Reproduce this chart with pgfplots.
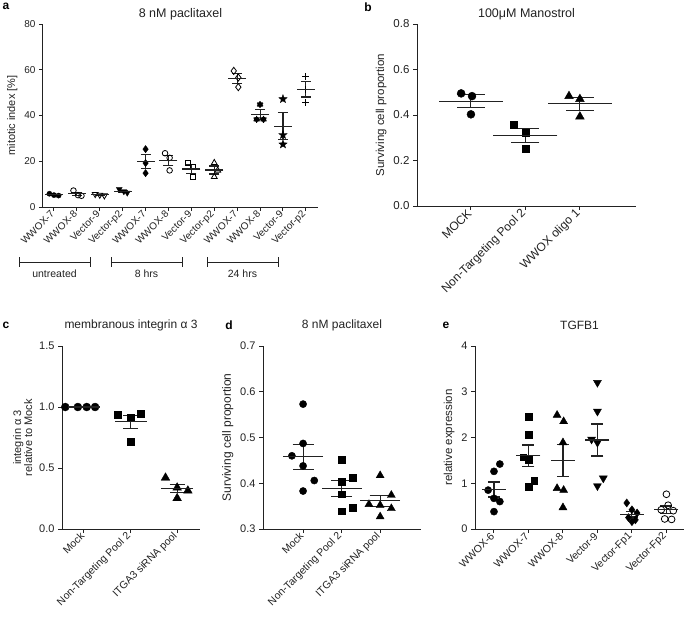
\documentclass[border=0pt]{standalone}
\usepackage{fontspec}
\setmainfont{Liberation Sans}
\usepackage{pgfplots}
\pgfplotsset{compat=1.18}
\usetikzlibrary{plotmarks}

\definecolor{ink}{HTML}{222222}

% filled five-pointed star
\pgfdeclareplotmark{fstar}{%
  \pgfpathmoveto{\pgfpointpolar{90}{1.2\pgfplotmarksize}}%
  \pgfpathlineto{\pgfpointpolar{126}{0.5\pgfplotmarksize}}%
  \pgfpathlineto{\pgfpointpolar{162}{1.2\pgfplotmarksize}}%
  \pgfpathlineto{\pgfpointpolar{198}{0.5\pgfplotmarksize}}%
  \pgfpathlineto{\pgfpointpolar{234}{1.2\pgfplotmarksize}}%
  \pgfpathlineto{\pgfpointpolar{270}{0.5\pgfplotmarksize}}%
  \pgfpathlineto{\pgfpointpolar{306}{1.2\pgfplotmarksize}}%
  \pgfpathlineto{\pgfpointpolar{342}{0.5\pgfplotmarksize}}%
  \pgfpathlineto{\pgfpointpolar{18}{1.2\pgfplotmarksize}}%
  \pgfpathlineto{\pgfpointpolar{54}{0.5\pgfplotmarksize}}%
  \pgfpathclose\pgfusepathqfillstroke}
% filled dot with spikes
\pgfdeclareplotmark{blob}{%
  \pgfpathcircle{\pgfpointorigin}{0.6\pgfplotmarksize}\pgfusepathqfillstroke
  \pgfpathmoveto{\pgfpointpolar{90}{\pgfplotmarksize}}\pgfpathlineto{\pgfpointpolar{270}{\pgfplotmarksize}}%
  \pgfpathmoveto{\pgfpointpolar{30}{\pgfplotmarksize}}\pgfpathlineto{\pgfpointpolar{210}{\pgfplotmarksize}}%
  \pgfpathmoveto{\pgfpointpolar{150}{\pgfplotmarksize}}\pgfpathlineto{\pgfpointpolar{330}{\pgfplotmarksize}}%
  \pgfusepathqstroke}

\pgfplotsset{
  gp/.style={
    scale only axis, anchor=south west, clip=false,
    axis x line*=bottom, axis y line*=left,
    axis line style={line width=1pt, -, ink},
    tick align=outside, major tick length=4pt,
    tick style={line width=1pt, ink},
    /pgf/number format/assume math mode=true,
    x tick label style={rotate=45, anchor=east, inner sep=2pt},
    every tick label/.append style={text=ink},
    label style={text=ink},
    title style={text=ink, anchor=center, yshift=1pt},
  },
  gp/.default={},
  means/.style 2 args={only marks, ink, mark=-, mark size=#1,
    mark options={line width=1.1pt},
    error bars/.cd, y dir=both, y explicit,
    error mark options={rotate=90, mark size=#2, line width=1.1pt},
    error bar style={line width=1.1pt}},
  pts/.style={only marks, black, mark size=#1},
}
\newcommand\fs[1]{\fontsize{#1}{#1}\selectfont}

\begin{document}
\begin{tikzpicture}
\useasboundingbox (0,0) rectangle (685pt,-624pt);

% panel letters
\node[anchor=center, font=\fs{12}\bfseries] at (6pt,-6pt) {a};
\node[anchor=center, font=\fs{12}\bfseries] at (368pt,-7pt) {b};
\node[anchor=center, font=\fs{12}\bfseries] at (6pt,-325pt) {c};
\node[anchor=center, font=\fs{12}\bfseries] at (229pt,-325pt) {d};
\node[anchor=center, font=\fs{12}\bfseries] at (446pt,-325pt) {e};

% ---------- a ----------
\begin{axis}[gp, at={(43pt,-207pt)}, width=275pt, height=183pt,
  xmin=-0.48, xmax=11.53, ymin=0, ymax=80,
  ytick={0,20,40,60,80}, xtick={0,...,11},
  xticklabels={WWOX-7,WWOX-8,Vector-9,Vector-p2,WWOX-7,WWOX-8,Vector-9,Vector-p2,WWOX-7,WWOX-8,Vector-9,Vector-p2},
  ticklabel style={font=\fs{10}},
  ylabel={mitotic index [\%]}, ylabel style={font=\fs{11}},
  title={8 nM paclitaxel}, title style={font=\fs{12.5}, at={(0.5,1)}, yshift=3pt}]
\addplot[pts=2.6, mark=*] coordinates {(-0.2,5.8) (0,5.2) (0.2,5.0)};
\addplot[pts=2.8, mark=o, thick] coordinates {(0.85,7.2) (1.05,5.2) (1.2,4.9)};
\addplot[pts=3.4, mark=triangle, thick, mark options={rotate=180}] coordinates {(1.8,5.6) (2,5.3) (2.2,5.0)};
\addplot[pts=3.4, mark=triangle*, mark options={rotate=180}] coordinates {(2.85,7.8) (3.05,6.8) (3.2,6.2)};
\addplot[pts=3.6, mark=diamond*] coordinates {(4,25.3) (4,19.2) (4,14.8)};
\addplot[pts=2.8, mark=o, thick] coordinates {(4.85,23.5) (5.05,21.5) (5.05,16.0)};
\addplot[pts=2.6, mark=square, thick] coordinates {(5.85,19.3) (6.05,17.6) (6.05,13.0)};
\addplot[pts=3.4, mark=triangle, thick] coordinates {(7,19.3) (7.15,16.0) (7,13.2)};
\addplot[pts=3.6, mark=diamond, thick] coordinates {(7.85,59.5) (8.05,56.6) (8.05,52.4)};
\addplot[pts=3.4, mark=blob, fill=black, mark options={line width=1.2pt}] coordinates {(9,44.8) (8.85,38.3) (9.15,38.3)};
\addplot[pts=3.6, mark=fstar, fill=black, mark options={fill=black}] coordinates {(10,47.2) (10,31.5) (10,27.4)};
\addplot[pts=3.4, mark=+, mark options={line width=1.1pt}] coordinates {(11,57.2) (11,51.4) (11,45.7)};
\addplot[means={9pt}{5pt}] coordinates {
  (0,5.33) +- (0,0.24)  (1,5.77) +- (0,0.72)  (2,5.3) +- (0,0.17)  (3,6.93) +- (0,0.47)
  (4,19.77) +- (0,3.04) (5,20.33) +- (0,2.24) (6,16.63) +- (0,1.88) (7,16.17) +- (0,1.76)
  (8,56.17) +- (0,2.06) (9,40.47) +- (0,2.17) (10,35.37) +- (0,6.03) (11,51.43) +- (0,3.32)};
\end{axis}

% group brackets under panel a
\begin{scope}[line width=1pt, ink]
  \foreach \l/\r/\t in {19/90/untreated, 111/182/8 hrs, 207/278/24 hrs} {
    \draw (\l pt,-262pt) -- (\r pt,-262pt);
    \draw (\l pt,-257pt) -- (\l pt,-267pt);
    \draw (\r pt,-257pt) -- (\r pt,-267pt);
    \node[font=\fs{10.5}, text=ink] at ({(\l+\r)/2*1pt},-274pt) {\t};
  }
\end{scope}

% ---------- b ----------
\begin{axis}[gp, at={(417pt,-206pt)}, width=219pt, height=182pt,
  xmin=-0.99, xmax=3.03, ymin=0, ymax=0.8,
  ytick={0,0.2,...,0.8}, xtick={0,1,2},
  xticklabels={MOCK,Non-Targeting Pool 2,WWOX oligo 1},
  yticklabel style={font=\fs{11.5}, /pgf/number format/.cd, fixed, fixed zerofill, precision=1},
  xticklabel style={font=\fs{12}},
  ylabel={Surviving cell proportion}, ylabel style={font=\fs{11.5}},
  title={100μM Manostrol}, title style={font=\fs{12.5}, at={(0.5,1)}, yshift=3pt}]
\addplot[pts=4, mark=*] coordinates {(-0.18,0.495) (0.02,0.483) (0,0.403)};
\addplot[pts=3.6, mark=square*] coordinates {(0.79,0.359) (1,0.322) (1,0.251)};
\addplot[pts=5, mark=triangle*] coordinates {(1.8,0.483) (2,0.470) (2,0.393)};
\addplot[means={32pt}{14pt}] coordinates {
  (0,0.4603) +- (0,0.029) (1,0.3107) +- (0,0.0317) (2,0.4487) +- (0,0.0281)};
\end{axis}

% ---------- c ----------
\begin{axis}[gp, at={(62pt,-529pt)}, width=138pt, height=183pt,
  xmin=-0.47, xmax=2.49, ymin=0, ymax=1.5,
  ytick={0,0.5,1,1.5}, xtick={0,1,2},
  xticklabels={Mock,Non-Targeting Pool 2,ITGA3 siRNA pool},
  yticklabel style={font=\fs{11}, /pgf/number format/.cd, fixed, fixed zerofill, precision=1},
  xticklabel style={font=\fs{10.5}},
  ylabel={integrin α 3\\relative to Mock}, ylabel style={font=\fs{11}, align=center},
  title={membranous integrin α 3}, title style={font=\fs{12}, at={(0.5,1)}, yshift=14pt}]
\addplot[pts=4, mark=*] coordinates {(-0.4,1) (-0.13,1) (0.06,1) (0.24,1)};
\addplot[pts=3.6, mark=square*] coordinates {(0.73,0.934) (1,0.915) (1.22,0.948) (1,0.716)};
\addplot[pts=5, mark=triangle*] coordinates {(1.75,0.42) (2,0.339) (2.23,0.314) (2,0.252)};
\addplot[means={16pt}{7.5pt}] coordinates {
  (0,1.0) +- (0,0.0) (1,0.878) +- (0,0.0545) (2,0.331) +- (0,0.0348)};
\end{axis}

% ---------- d ----------
\begin{axis}[gp, at={(263pt,-529pt)}, width=158pt, height=183pt,
  xmin=-1.04, xmax=3.06, ymin=0.3, ymax=0.7,
  ytick={0.3,0.4,...,0.7}, xtick={0,1,2},
  xticklabels={Mock,Non-Targeting Pool 2,ITGA3 siRNA pool},
  yticklabel style={font=\fs{11}, /pgf/number format/.cd, fixed, fixed zerofill, precision=1},
  xticklabel style={font=\fs{10.5}},
  ylabel={Surviving cell proportion}, ylabel style={font=\fs{12}},
  title={8 nM paclitaxel}, title style={font=\fs{12}, at={(0.5,1)}, yshift=14pt}]
\addplot[pts=3.6, mark=*] coordinates {(0,0.573) (0,0.487) (-0.29,0.460) (0,0.438) (0.29,0.406) (0,0.383)};
\addplot[pts=3.3, mark=square*] coordinates {(1,0.452) (1,0.403) (1.29,0.412) (1,0.376) (1.29,0.347) (1,0.339)};
\addplot[pts=4.6, mark=triangle*] coordinates {(2,0.417) (2.29,0.374) (1.71,0.354) (2,0.352) (2.29,0.345) (2,0.327)};
\addplot[means={20pt}{10.5pt}] coordinates {
  (0,0.458) +- (0,0.0276) (1,0.388) +- (0,0.0174) (2,0.3615) +- (0,0.0127)};
\end{axis}

% ---------- e ----------
\begin{axis}[gp, at={(475pt,-529pt)}, width=209pt, height=183pt,
  xmin=-0.55, xmax=5.51, ymin=0, ymax=4,
  ytick={0,1,2,3,4}, xtick={0,...,5},
  xticklabels={WWOX-6,WWOX-7,WWOX-8,Vector-9,Vector-Fp1,Vector-Fp2},
  yticklabel style={font=\fs{11}},
  xticklabel style={font=\fs{10.5}},
  ylabel={relative expression}, ylabel style={font=\fs{11.5}},
  title={TGFB1}, title style={font=\fs{12}, at={(0.5,1)}, yshift=14pt}]
\addplot[pts=3.6, mark=*] coordinates {(0.17,1.42) (0,1.26) (-0.17,0.85) (0,0.67) (0.17,0.60) (0,0.38)};
\addplot[pts=3.3, mark=square*] coordinates {(1,2.46) (1,2.06) (0.85,1.57) (1,1.51) (1.17,1.05) (1,0.93)};
\addplot[pts=4.6, mark=triangle*] coordinates {(1.83,2.49) (2.02,2.35) (2,1.89) (1.83,0.89) (2.02,0.85) (2,0.47)};
\addplot[pts=4.6, mark=triangle*, mark options={rotate=180}] coordinates {(3,3.2) (3,2.57) (2.83,1.96) (3,1.89) (3.17,1.11) (3,0.94)};
\addplot[pts=4, mark=diamond*] coordinates {(3.85,0.57) (4.0,0.42) (4.15,0.35) (3.9,0.25) (4.1,0.20) (4.0,0.16)};
\addplot[pts=3.4, mark=o, thick] coordinates {(5,0.76) (5.05,0.52) (4.85,0.42) (5.2,0.40) (4.95,0.22) (5.15,0.21)};
\addplot[means={12pt}{6pt}] coordinates {
  (0,0.863) +- (0,0.164) (1,1.597) +- (0,0.239) (2,1.49) +- (0,0.352)
  (3,1.945) +- (0,0.35) (4,0.325) +- (0,0.063) (5,0.42) +- (0,0.084)};
\end{axis}
\end{tikzpicture}
\end{document}
